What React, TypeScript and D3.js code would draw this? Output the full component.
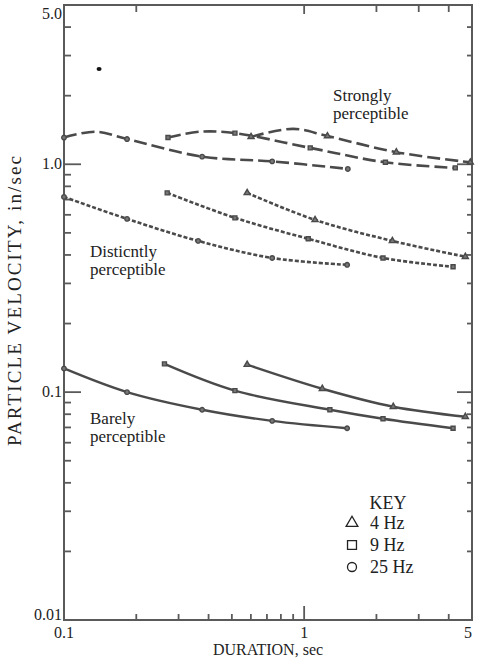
import React, { useEffect, useRef } from 'react';
import * as d3 from 'd3';

// durations (sec) and particle velocities (in/sec)
// strongly perceptible
const strong25Dur = [0.1, 0.135, 0.183, 0.376, 0.736, 1.52];
const strong25Vel = [1.31, 1.39, 1.29, 1.08, 1.03, 0.954];
const strong25Marks = [0, 2, 3, 4, 5];
const strong9Dur = [0.271, 0.369, 0.515, 1.06, 2.18, 4.26];
const strong9Vel = [1.31, 1.39, 1.37, 1.18, 1.02, 0.964];
const strong9Marks = [0, 2, 3, 4, 5];
const strong4Dur = [0.601, 0.9, 1.25, 2.42, 4.92];
const strong4Vel = [1.32, 1.43, 1.33, 1.13, 1.02];
const strong4Marks = [0, 2, 3, 4];

// distinctly perceptible
const distinct25Dur = [0.1, 0.183, 0.362, 0.736, 1.51];
const distinct25Vel = [0.719, 0.576, 0.461, 0.388, 0.362];
const distinct9Dur = [0.269, 0.515, 1.04, 2.13, 4.17];
const distinct9Vel = [0.749, 0.582, 0.471, 0.388, 0.355];
const distinct4Dur = [0.579, 1.11, 2.33, 4.69];
const distinct4Vel = [0.749, 0.57, 0.461, 0.393];

// barely perceptible
const barely25Dur = [0.1, 0.183, 0.376, 0.736, 1.51];
const barely25Vel = [0.127, 0.1, 0.0837, 0.0748, 0.0694];
const barely9Dur = [0.262, 0.515, 1.28, 2.13, 4.17];
const barely9Vel = [0.133, 0.1015, 0.0837, 0.0764, 0.0694];
const barely4Dur = [0.579, 1.19, 2.35, 4.69];
const barely4Vel = [0.132, 0.1035, 0.0863, 0.078];

const yLabels = [5, 1, 0.1, 0.01];
const yLabelText = ['5.0', '1.0', '0.1', '0.01'];
const xLabels = [0.1, 1, 5];
const xLabelText = ['0.1', '1', '5'];
const topTicks = [0.2, 1, 2, 3, 4];

const keyItems = [
  { freq: '4 Hz', shape: 'triangle' },
  { freq: '9 Hz', shape: 'square' },
  { freq: '25 Hz', shape: 'circle' }
];

const speck = [0.14, 2.62];

const font = '"Liberation Serif", "Times New Roman", serif';

const App = () => {
  const container = useRef(null);

  const width = 478;
  const height = 661;
  const margins = { l: 64, t: 5, r: 6, b: 41 };

  useEffect(() => {
    createChart();
  }, []);

  const createChart = () => {
    const svg = d3
      .select(container.current)
      .selectAll('svg')
      .data([0])
      .join('svg')
      .attr('width', width)
      .attr('height', height)
      .style('display', 'block');
    svg.selectAll('*').remove();

    const x0 = margins.l;
    const x1 = width - margins.r;
    const y0 = margins.t;
    const y1 = height - margins.b;

    const xScale = d3.scaleLog().domain([0.1, 5]).range([x0, x1]);
    const yScale = d3.scaleLog().domain([0.01, 5]).range([y1, y0]);

    const ink = '#4a4a4a';
    const g = svg.append('g');

    // frame
    g.append('rect')
      .attr('x', x0)
      .attr('y', y0)
      .attr('width', x1 - x0)
      .attr('height', y1 - y0)
      .attr('fill', 'none')
      .attr('stroke', '#5a5a5a')
      .attr('stroke-width', 2);

    const isMajor = v => Math.abs(Math.log10(v) - Math.round(Math.log10(v))) < 1e-6;

    // y ticks, left and right, pointing inward
    const yTicks = yScale.ticks().filter(v => v > 0.01 && v < 5);
    g.selectAll('.ytl')
      .data(yTicks)
      .join('line')
      .attr('x1', x0)
      .attr('x2', d => x0 + (isMajor(d) ? 17 : 7))
      .attr('y1', d => yScale(d))
      .attr('y2', d => yScale(d))
      .attr('stroke', '#5a5a5a')
      .attr('stroke-width', 1.8);
    g.selectAll('.ytr')
      .data(yTicks)
      .join('line')
      .attr('x1', x1)
      .attr('x2', d => x1 - (isMajor(d) ? 15 : 5))
      .attr('y1', d => yScale(d))
      .attr('y2', d => yScale(d))
      .attr('stroke', '#5a5a5a')
      .attr('stroke-width', 1.8);

    // x ticks, bottom and top
    const xTicks = xScale.ticks().filter(v => v > 0.1 && v < 5);
    g.selectAll('.xtb')
      .data(xTicks)
      .join('line')
      .attr('x1', d => xScale(d))
      .attr('x2', d => xScale(d))
      .attr('y1', y1)
      .attr('y2', d => y1 - (isMajor(d) ? 14 : 6))
      .attr('stroke', '#5a5a5a')
      .attr('stroke-width', 1.8);
    g.selectAll('.xtt')
      .data(topTicks)
      .join('line')
      .attr('x1', d => xScale(d))
      .attr('x2', d => xScale(d))
      .attr('y1', y0)
      .attr('y2', d => y0 + (isMajor(d) ? 9 : 7))
      .attr('stroke', '#5a5a5a')
      .attr('stroke-width', 1.8);

    // tick labels
    g.selectAll('.ylab')
      .data(yLabels)
      .join('text')
      .attr('x', x0 - 2)
      .attr('y', (d, i) => yScale(d) + (i == 0 ? 14 : i == 3 ? 0 : 5))
      .attr('text-anchor', 'end')
      .attr('font-family', font)
      .attr('font-size', 16)
      .attr('fill', '#222')
      .text((d, i) => yLabelText[i]);
    g.selectAll('.xlab')
      .data(xLabels)
      .join('text')
      .attr('x', d => xScale(d))
      .attr('y', y1 + 18)
      .attr('text-anchor', (d, i) => (i == 2 ? 'end' : 'middle'))
      .attr('font-family', font)
      .attr('font-size', 16)
      .attr('fill', '#222')
      .text((d, i) => xLabelText[i]);

    // axis titles
    g.append('text')
      .attr('x', 268)
      .attr('y', height - 6)
      .attr('text-anchor', 'middle')
      .attr('font-family', font)
      .attr('font-size', 16)
      .attr('fill', '#222')
      .text('DURATION, sec');
    g.append('text')
      .attr('transform', `translate(21, 301) rotate(-90)`)
      .attr('text-anchor', 'middle')
      .attr('font-family', font)
      .attr('font-size', 19)
      .attr('textLength', 290)
      .attr('lengthAdjust', 'spacing')
      .attr('fill', '#222')
      .text('PARTICLE VELOCITY, in/sec');

    const line = d3
      .line()
      .x(d => xScale(d[0]))
      .y(d => yScale(d[1]))
      .curve(d3.curveCatmullRom.alpha(0.5));

    const series = [
      { dur: strong25Dur, vel: strong25Vel, marks: strong25Marks, shape: 'circle', dash: '13,5' },
      { dur: strong9Dur, vel: strong9Vel, marks: strong9Marks, shape: 'square', dash: '13,5' },
      { dur: strong4Dur, vel: strong4Vel, marks: strong4Marks, shape: 'triangle', dash: '13,5' },
      { dur: distinct25Dur, vel: distinct25Vel, shape: 'circle', dash: '4,2' },
      { dur: distinct9Dur, vel: distinct9Vel, shape: 'square', dash: '4,2' },
      { dur: distinct4Dur, vel: distinct4Vel, shape: 'triangle', dash: '4,2' },
      { dur: barely25Dur, vel: barely25Vel, shape: 'circle', dash: null },
      { dur: barely9Dur, vel: barely9Vel, shape: 'square', dash: null },
      { dur: barely4Dur, vel: barely4Vel, shape: 'triangle', dash: null }
    ];

    const symbolOf = shape =>
      shape == 'triangle' ? d3.symbolTriangle : shape == 'square' ? d3.symbolSquare : d3.symbolCircle;

    series.forEach(s => {
      const pts = s.dur.map((d, i) => [d, s.vel[i]]);
      g.append('path')
        .attr('d', line(pts))
        .attr('fill', 'none')
        .attr('stroke', ink)
        .attr('stroke-width', s.dash ? 2.6 : 2.4)
        .attr('stroke-dasharray', s.dash);
      const marks = s.marks ? s.marks.map(i => pts[i]) : pts;
      g.selectAll(null)
        .data(marks)
        .join('path')
        .attr('transform', d => `translate(${xScale(d[0])},${yScale(d[1])})`)
        .attr('d', d3.symbol().type(symbolOf(s.shape)).size(16))
        .attr('fill', '#777')
        .attr('stroke', ink)
        .attr('stroke-width', 1.4);
    });

    // scan speck
    g.append('ellipse')
      .attr('cx', xScale(speck[0]))
      .attr('cy', yScale(speck[1]))
      .attr('rx', 2.5)
      .attr('ry', 2)
      .attr('fill', '#111');

    // zone labels
    const zoneLabels = [
      { lines: ['Strongly', 'perceptible'], x: 333, y: 101 },
      { lines: ['Disticntly', 'perceptible'], x: 90, y: 257 },
      { lines: ['Barely', 'perceptible'], x: 90, y: 424 }
    ];
    zoneLabels.forEach(z => {
      const t = g
        .append('text')
        .attr('font-family', font)
        .attr('font-size', 17)
        .attr('fill', '#222');
      z.lines.forEach((l, i) => {
        t.append('tspan')
          .attr('x', z.x)
          .attr('y', z.y + i * 18)
          .text(l);
      });
    });

    // key
    const key = g.append('g');
    key.append('text')
      .attr('x', 388)
      .attr('y', 509)
      .attr('text-anchor', 'middle')
      .attr('font-family', font)
      .attr('font-size', 18)
      .attr('fill', '#222')
      .text('KEY');
    keyItems.forEach((k, i) => {
      const cy = 523 + i * 22;
      key.append('path')
        .attr('transform', `translate(352,${cy})`)
        .attr('d', d3.symbol().type(symbolOf(k.shape)).size(k.shape == 'triangle' ? 60 : k.shape == 'square' ? 80 : 64))
        .attr('fill', 'white')
        .attr('stroke', '#222')
        .attr('stroke-width', 1.3);
      key.append('text')
        .attr('x', 370)
        .attr('y', cy + 6)
        .attr('font-family', font)
        .attr('font-size', 18)
        .attr('fill', '#222')
        .text(k.freq);
    });
  };

  return (
    <div
      ref={container}
      style={{ position: 'absolute', left: 0, top: 0, width, height, background: 'white' }}
    ></div>
  );
};

export default App;
